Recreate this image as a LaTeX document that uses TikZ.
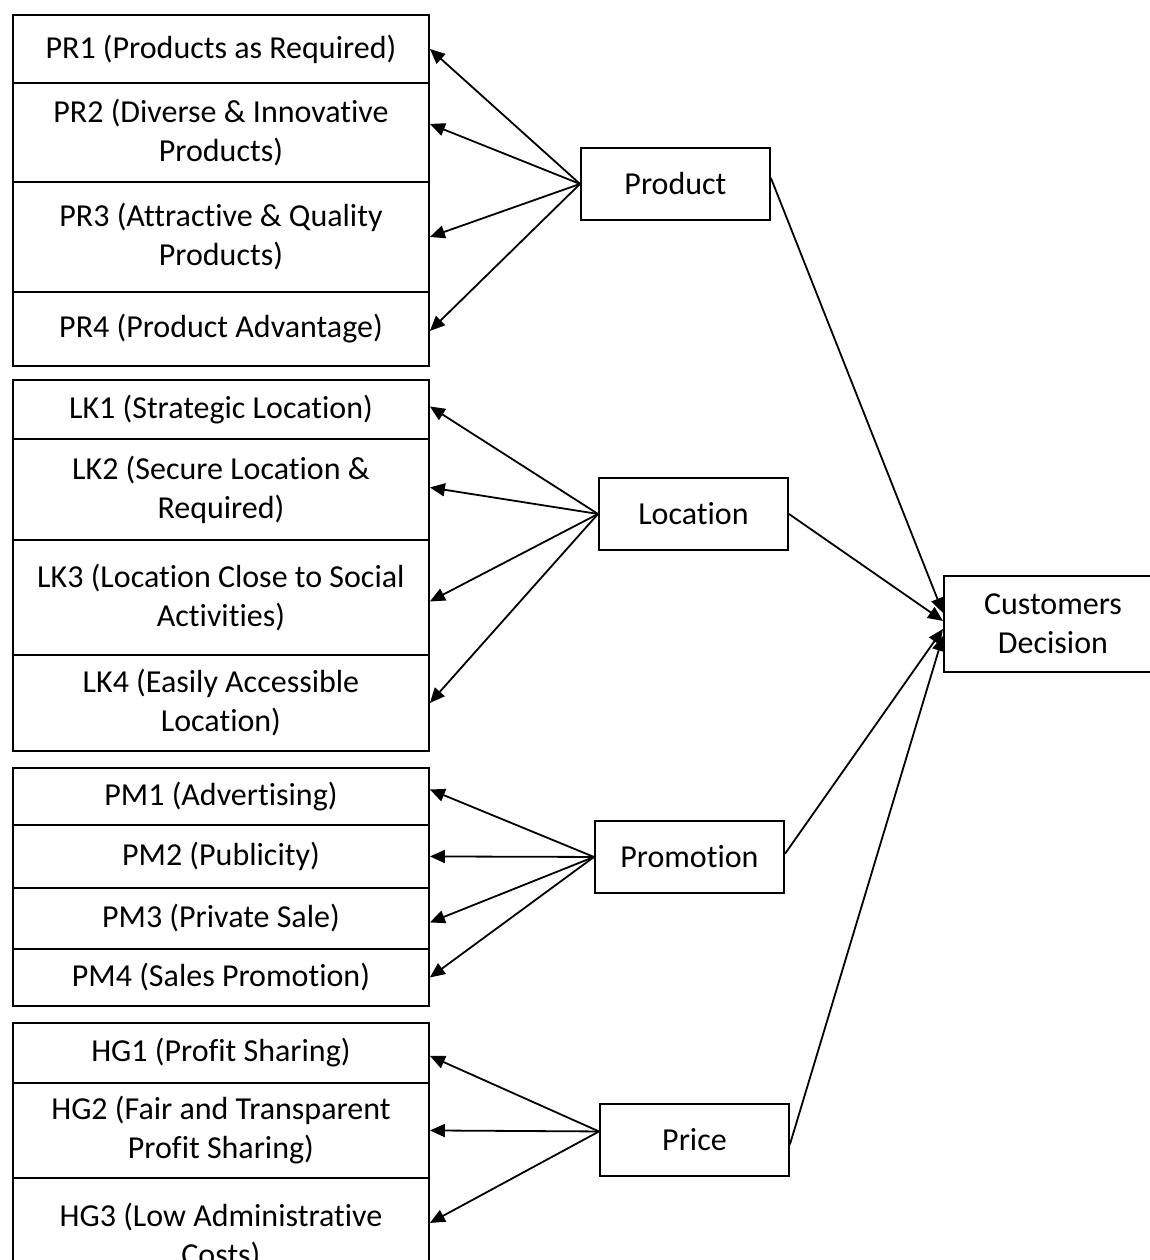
\documentclass[tikz,border=0pt]{standalone}
\usepackage{fontspec}
\setmainfont{Carlito}[Ligatures=NoCommon]
\usetikzlibrary{arrows.meta}
\begin{document}
\begin{tikzpicture}[x=1pt,y=-1pt,
  box/.style={draw, line width=1.9pt, rectangle, inner sep=0pt, anchor=north west, align=center,
    font=\fontsize{32pt}{39pt}\selectfont},
  item/.style={box, minimum width=416pt},
  factor/.style={box, minimum width=189pt, minimum height=72pt},
  arr/.style={line width=1.8pt, -{Triangle[length=15pt,width=13pt]}}]
\useasboundingbox (0,0) rectangle (1150,1260);
\clip (0,0) rectangle (1150,1260);
% Product items
\node[item, minimum height=68pt] (pr1) at (12,14) {PR1 (Products as Required)};
\node[item, minimum height=99pt] (pr2) at (12,82) {PR2 (Diverse \& Innovative\\Products)};
\node[item, minimum height=110pt] (pr3) at (12,181) {PR3 (Attractive \& Quality\\Products)};
\node[item, minimum height=74pt] (pr4) at (12,291) {PR4 (Product Advantage)};
% Location items
\node[item, minimum height=59pt] (lk1) at (12,379) {LK1 (Strategic Location)};
\node[item, minimum height=101pt] (lk2) at (12,438) {LK2 (Secure Location \&\\Required)};
\node[item, minimum height=115pt] (lk3) at (12,539) {LK3 (Location Close to Social\\Activities)};
\node[item, minimum height=96pt] (lk4) at (12,654) {LK4 (Easily Accessible\\Location)};
% Promotion items
\node[item, minimum height=57pt] (pm1) at (12,767) {PM1 (Advertising)};
\node[item, minimum height=63pt] (pm2) at (12,824) {PM2 (Publicity)};
\node[item, minimum height=61pt] (pm3) at (12,887) {PM3 (Private Sale)};
\node[item, minimum height=57pt] (pm4) at (12,948) {PM4 (Sales Promotion)};
% Price items
\node[item, minimum height=60pt] (hg1) at (12,1022) {HG1 (Profit Sharing)};
\node[item, minimum height=95pt] (hg2) at (12,1082) {HG2 (Fair and Transparent\\Profit Sharing)};
\node[item, minimum height=118pt] (hg3) at (12,1177) {HG3 (Low Administrative\\Costs)};
% Factors
\node[factor] (product) at (580,147) {Product};
\node[factor] (location) at (598,477) {Location};
\node[factor] (promotion) at (594,820) {Promotion};
\node[factor] (price) at (599,1103) {Price};
\node[box, minimum width=218pt, minimum height=96pt] (cd) at (943,575) {Customers\\Decision};
% Arrows to items
\draw[arr] (product.west) -- (pr1.east);
\draw[arr] (product.west) -- ([yshift=8.5pt]pr2.east);
\draw[arr] (product.west) -- (pr3.east);
\draw[arr] (product.west) -- ([yshift=-2pt]pr4.east);
\draw[arr] (location.west) -- ([yshift=3pt]lk1.east);
\draw[arr] (location.west) -- ([yshift=2pt]lk2.east);
\draw[arr] (location.west) -- ([yshift=-4pt]lk3.east);
\draw[arr] (location.west) -- (lk4.east);
\draw[arr] (promotion.west) -- ([yshift=7pt]pm1.east);
\draw[arr] (promotion.west) -- (pm2.east);
\draw[arr] (promotion.west) -- ([yshift=-4pt]pm3.east);
\draw[arr] (promotion.west) -- (pm4.east);
\draw[arr] ([yshift=8.5pt]price.west) -- ([yshift=-3pt]hg1.east);
\draw[arr] ([yshift=8.5pt]price.west) -- (hg2.east);
\draw[arr] ([yshift=8.5pt]price.west) -- ([yshift=14pt]hg3.east);
% Arrows to decision
\draw[arr] ([yshift=6pt]product.east) -- ([yshift=11pt]cd.west);
\draw[arr] (location.east) -- ([yshift=3pt]cd.west);
\draw[arr] ([yshift=3pt]promotion.east) -- ([yshift=-5pt]cd.west);
\draw[arr] ([yshift=-4.5pt]price.east) -- ([yshift=-12pt]cd.west);
\end{tikzpicture}
\end{document}
